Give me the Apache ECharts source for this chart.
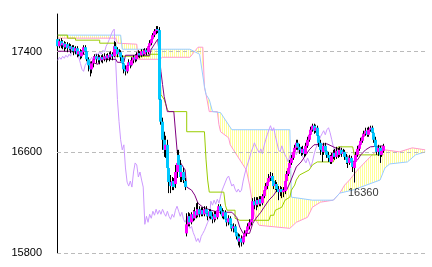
<!DOCTYPE html>
<html><head><meta charset="utf-8">
<script src="https://cdn.jsdelivr.net/npm/echarts@6/dist/echarts.min.js"></script>
<style>html,body{margin:0;padding:0;background:#fff}#c{width:432px;height:267px}</style>
</head><body><div id="c"></div>
<script>
// [open, close, low, high]
const candles = [
[17500,17444,17420,17516],[17444,17484,17428,17500],[17484,17452,17428,17508],[17452,17468,17420,17492],[17468,17436,17404,17484],
[17436,17460,17420,17476],[17460,17428,17396,17476],[17428,17444,17412,17468],[17444,17420,17388,17460],[17420,17436,17396,17452],
[17436,17404,17372,17452],[17404,17428,17380,17444],[17428,17380,17356,17444],[17380,17404,17364,17420],[17404,17364,17340,17420],
[17364,17396,17348,17412],[17396,17436,17380,17452],[17436,17404,17380,17452],[17404,17340,17324,17420],[17340,17292,17244,17356],
[17292,17260,17204,17316],[17260,17308,17228,17324],[17308,17340,17276,17364],[17340,17364,17316,17380],[17364,17340,17308,17380],
[17340,17356,17316,17380],[17356,17332,17300,17372],[17332,17356,17316,17372],[17356,17340,17308,17380],[17340,17364,17324,17388],
[17364,17348,17316,17380],[17348,17372,17332,17388],[17372,17356,17324,17396],[17356,17380,17340,17404],[17380,17364,17332,17396],
[17364,17444,17356,17484],[17444,17420,17388,17476],[17420,17380,17356,17436],[17380,17396,17364,17420],[17396,17356,17324,17412],
[17356,17308,17284,17372],[17308,17260,17228,17324],[17260,17244,17212,17292],[17244,17292,17228,17308],[17292,17316,17276,17340],
[17316,17292,17268,17332],[17292,17332,17284,17356],[17332,17356,17308,17372],[17356,17340,17316,17380],[17340,17372,17324,17396],
[17372,17388,17356,17412],[17388,17372,17348,17404],[17372,17404,17356,17420],[17404,17380,17364,17420],[17380,17412,17372,17428],
[17412,17396,17372,17428],[17396,17444,17380,17460],[17444,17468,17420,17492],[17468,17500,17452,17516],[17500,17532,17484,17548],
[17532,17564,17516,17580],[17564,17580,17540,17604],[17580,17572,17548,17604],[17572,17020,17004,17596],[17020,16844,16820,17060],
[16844,16700,16620,16876],[16700,16620,16564,16764],[16620,16660,16556,16732],[16660,16476,16420,16700],[16476,16364,16276,16540],
[16364,16332,16276,16420],[16332,16372,16300,16404],[16372,16324,16300,16396],[16348,16444,16316,16500],[16444,16516,16396,16620],
[16580,16500,16444,16620],[16500,16404,16364,16540],[16404,16444,16364,16476],[16444,16380,16356,16476],[16372,16324,16300,16396],
[15956,16028,15932,16116],[16028,16092,16012,16124],[16092,16044,16012,16116],[16044,16108,16028,16124],[16108,16076,16052,16140],
[16076,16132,16060,16164],[16132,16100,16076,16196],[16100,16148,16084,16204],[16148,16108,16084,16172],[16108,16140,16092,16164],
[16140,16108,16092,16164],[16108,16148,16092,16172],[16148,16116,16092,16172],[16116,16092,16060,16140],[16092,16132,16076,16148],
[16132,16092,16068,16148],[16092,16068,16036,16124],[16068,16108,16044,16132],[16108,16084,16060,16132],[16084,16140,16068,16164],
[16140,16172,16124,16188],[16172,16132,16108,16188],[16132,16092,16076,16156],[16092,16124,16068,16140],[16124,16068,16052,16140],
[16068,16044,16012,16092],[16044,16076,16020,16100],[16076,16028,15996,16092],[16028,15996,15972,16052],[15996,16012,15964,16036],
[16012,15964,15940,16028],[15964,15932,15908,15988],[15932,15892,15860,15956],[15892,15916,15844,15948],[15916,15884,15852,15940],
[15884,15932,15868,15956],[15932,15956,15908,15980],[15956,15980,15932,16004],[15980,16012,15964,16036],[16012,16044,15988,16068],
[16044,16068,16020,16092],[16068,16212,16044,16236],[16212,16180,16148,16244],[16180,16220,16140,16244],[16220,16188,16164,16244],
[16188,16228,16172,16252],[16228,16196,16172,16252],[16196,16252,16180,16268],[16252,16300,16236,16324],[16300,16332,16276,16356],
[16332,16364,16308,16388],[16364,16396,16348,16428],[16396,16412,16372,16444],[16412,16372,16348,16436],[16372,16332,16308,16396],
[16332,16348,16300,16380],[16348,16308,16284,16364],[16308,16284,16220,16332],[16284,16308,16252,16332],[16308,16284,16236,16324],
[16284,16300,16244,16324],[16292,16372,16268,16396],[16372,16428,16348,16452],[16428,16476,16412,16500],[16476,16516,16460,16540],
[16516,16556,16500,16580],[16556,16604,16540,16620],[16604,16636,16588,16660],[16636,16676,16620,16700],[16676,16644,16620,16700],
[16644,16620,16588,16668],[16620,16596,16572,16644],[16596,16628,16580,16652],[16628,16588,16564,16644],[16588,16652,16572,16676],
[16652,16700,16636,16724],[16700,16740,16684,16764],[16740,16780,16724,16804],[16780,16812,16764,16828],[16812,16772,16748,16828],
[16772,16796,16756,16820],[16796,16732,16700,16812],[16732,16676,16644,16756],[16676,16620,16580,16700],[16620,16604,16524,16652],
[16604,16652,16580,16676],[16652,16612,16588,16676],[16612,16580,16556,16636],[16580,16556,16524,16604],[16556,16524,16508,16580],
[16524,16572,16508,16596],[16572,16596,16548,16620],[16596,16564,16540,16628],[16564,16612,16548,16644],[16612,16580,16556,16636],
[16580,16620,16564,16644],[16620,16588,16564,16636],[16588,16604,16572,16628],[16604,16564,16540,16620],[16564,16540,16508,16588],
[16540,16516,16476,16564],[16516,16556,16500,16580],[16556,16524,16500,16572],[16524,16484,16444,16540],[16476,16524,16360,16556],
[16524,16580,16508,16604],[16580,16628,16564,16652],[16628,16660,16612,16684],[16660,16692,16644,16716],[16692,16724,16676,16748],
[16724,16748,16708,16772],[16748,16772,16732,16796],[16772,16740,16724,16796],[16740,16780,16724,16804],[16780,16796,16764,16812],
[16796,16756,16740,16812],[16756,16700,16676,16772],[16700,16644,16620,16724],[16644,16604,16580,16668],[16604,16636,16572,16660],
[16636,16580,16516,16652],[16580,16612,16564,16636],[16612,16652,16596,16668]
];
// line vertices: [period index, price]
const tenkan = [[0,17404],[10,17404],[12,17380],[18,17380],[19,17324],[25,17300],[26,17340],[36,17340],[37,17316],[41,17316],[42,17372],[57,17372],[58,17420],[60,17460],[62,17500],[63,17500],[64,17244],[65,17140],[66,17044],[67,16988],[68,16924],[72,16924],[74,16620],[75,16540],[77,16500],[79,16460],[80,16324],[83,16300],[85,16260],[87,16196],[90,16164],[95,16140],[100,16124],[108,16124],[111,16084],[113,16004],[115,15956],[119,15956],[121,16036],[123,16076],[126,16124],[128,16164],[131,16220],[134,16260],[136,16300],[142,16300],[144,16356],[146,16420],[148,16484],[151,16524],[154,16580],[156,16620],[159,16660],[167,16668],[171,16644],[175,16620],[179,16580],[181,16556],[184,16524],[186,16540],[188,16580],[191,16620],[194,16644],[202,16652]];
const kijun = [[0,17532],[6,17532],[6,17508],[11,17508],[11,17492],[26,17492],[26,17468],[36,17468],[36,17364],[57,17364],[57,17380],[63,17380],[64,17060],[66,17020],[68,16940],[69,16924],[80,16924],[80,16764],[91,16764],[92,16540],[93,16380],[94,16284],[103,16284],[104,16180],[105,16140],[110,16140],[110,16076],[113,16060],[131,16060],[132,16100],[134,16100],[135,16140],[139,16164],[141,16220],[144,16244],[145,16300],[147,16340],[148,16380],[150,16420],[156,16460],[158,16500],[161,16524],[171,16524],[173,16620],[174,16644],[183,16644],[184,16580],[202,16580]];
const senkouA = [[0,17508],[36,17508],[37,17468],[49,17460],[50,17340],[63,17340],[65,17356],[82,17356],[85,17404],[87,17436],[90,17436],[91,17116],[92,17060],[94,16924],[99,16924],[100,16820],[101,16764],[106,16716],[107,16660],[109,16620],[113,16540],[117,16460],[119,16340],[121,16180],[123,16060],[125,16020],[144,15996],[148,16044],[155,16084],[158,16164],[163,16204],[171,16220],[175,16276],[178,16340],[181,16380],[186,16460],[192,16540],[197,16604],[203,16620],[212,16604],[220,16636],[228,16620]];
const senkouB = [[0,17532],[39,17532],[40,17420],[82,17420],[88,17380],[89,17380],[91,17124],[92,17060],[94,17020],[96,16924],[101,16916],[108,16780],[144,16780],[145,16244],[158,16220],[171,16220],[175,16276],[183,16300],[200,16380],[203,16476],[206,16508],[217,16524],[222,16580],[228,16604]];
const lagPeriods = 26;     // chikou drawn 26 periods back
const leadPeriods = 26;    // cloud extends 26 periods ahead
const yTicks = [15800, 16600, 17400];
const yMin = 15800, yMax = 17700;
const lowMark = [184, 16360];

const N = candles.length + leadPeriods;
const categories = Array.from({length: N}, (_, i) => String(i));
const candleData = candles.map((c, i) => [i, c[0], c[1], c[2], c[3]]);
const chikou = candles.slice(lagPeriods).map((c, i) => [i, c[1]]);

const pc = document.createElement('canvas');
pc.width = 2; pc.height = 2;
const g = pc.getContext('2d');
g.fillStyle = '#ffff99'; g.fillRect(0, 0, 1, 2);

const chart = echarts.init(document.getElementById('c'), null, {renderer: 'canvas', devicePixelRatio: 1});
const lineS = (data, color, z) => ({type: 'line', data, showSymbol: false, symbol: 'none', z, silent: true,
  lineStyle: {color, width: 1}, animation: false});
const candleGeom = (api) => {
  const k = api.value(0);
  const o = api.value(1), c = api.value(2), l = api.value(3), h = api.value(4);
  const x = Math.floor(api.coord([k, o])[0]);
  return {x, o, c, yo: api.coord([k, o])[1], yc: api.coord([k, c])[1], yl: api.coord([k, l])[1], yh: api.coord([k, h])[1]};
};
chart.setOption({
  animation: false,
  grid: {left: 57, right: 6, top: 14, bottom: 14},
  xAxis: {type: 'category', data: categories, boundaryGap: true, show: false},
  yAxis: {type: 'value', min: yMin, max: yMax, interval: 800,
    axisLine: {show: true, lineStyle: {color: '#000', width: 1}},
    axisTick: {show: false}, splitLine: {show: false},
    axisLabel: {color: '#000', fontSize: 11, fontFamily: 'Liberation Sans', margin: 15,
      showMaxLabel: false, formatter: v => yTicks.includes(v) ? String(v) : ''}},
  series: [
    {type: 'custom', z: 1, silent: true, clip: true, data: [[0, yMin]],
      renderItem: (params, api) => {
        const pts = senkouA.map(p => api.coord(p)).concat(senkouB.slice().reverse().map(p => api.coord(p)));
        return {type: 'polygon', shape: {points: pts}, style: {fill: {image: pc, repeat: 'repeat'}, stroke: null}};
      }},
    {type: 'line', data: [], z: 2, silent: true,
      markLine: {silent: true, symbol: 'none', label: {show: false}, animation: false,
        lineStyle: {color: '#bbbbbb', type: [4, 3], width: 1},
        data: yTicks.map(v => ({yAxis: v}))}},
    lineS(senkouA, '#ff99cc', 3),
    lineS(senkouB, '#99ccff', 3),
    lineS(chikou, '#cc99ff', 4),
    lineS(kijun, '#99cc00', 5),
    lineS(tenkan, '#800080', 6),
    {type: 'custom', z: 7, silent: true, data: candleData, encode: {x: 0, y: [1, 2, 3, 4]},
      renderItem: (params, api) => {
        const q = candleGeom(api);
        return {type: 'line', shape: {x1: q.x + 0.5, y1: q.yh, x2: q.x + 0.5, y2: q.yl}, style: {stroke: '#000', lineWidth: 1}};
      }},
    {type: 'custom', z: 8, silent: true, data: candleData, encode: {x: 0, y: [1, 2, 3, 4]},
      renderItem: (params, api) => {
        const q = candleGeom(api);
        const top = Math.min(q.yo, q.yc), bot = Math.max(q.yo, q.yc);
        return {type: 'rect', shape: {x: q.x - 1, y: top, width: 3, height: Math.max(1, bot - top)},
          style: {fill: q.c >= q.o ? '#ff00ff' : '#00c8ff'}};
      }},
    {type: 'scatter', z: 9, silent: true, data: [lowMark], symbol: 'circle', symbolSize: 1,
      itemStyle: {color: 'rgba(0,0,0,0)'},
      label: {show: true, position: 'bottom', distance: 4, offset: [9, 0], color: '#000',
        fontSize: 11, fontFamily: 'Liberation Sans', formatter: p => String(p.value[1])}}
  ]
});
</script>
</body></html>
